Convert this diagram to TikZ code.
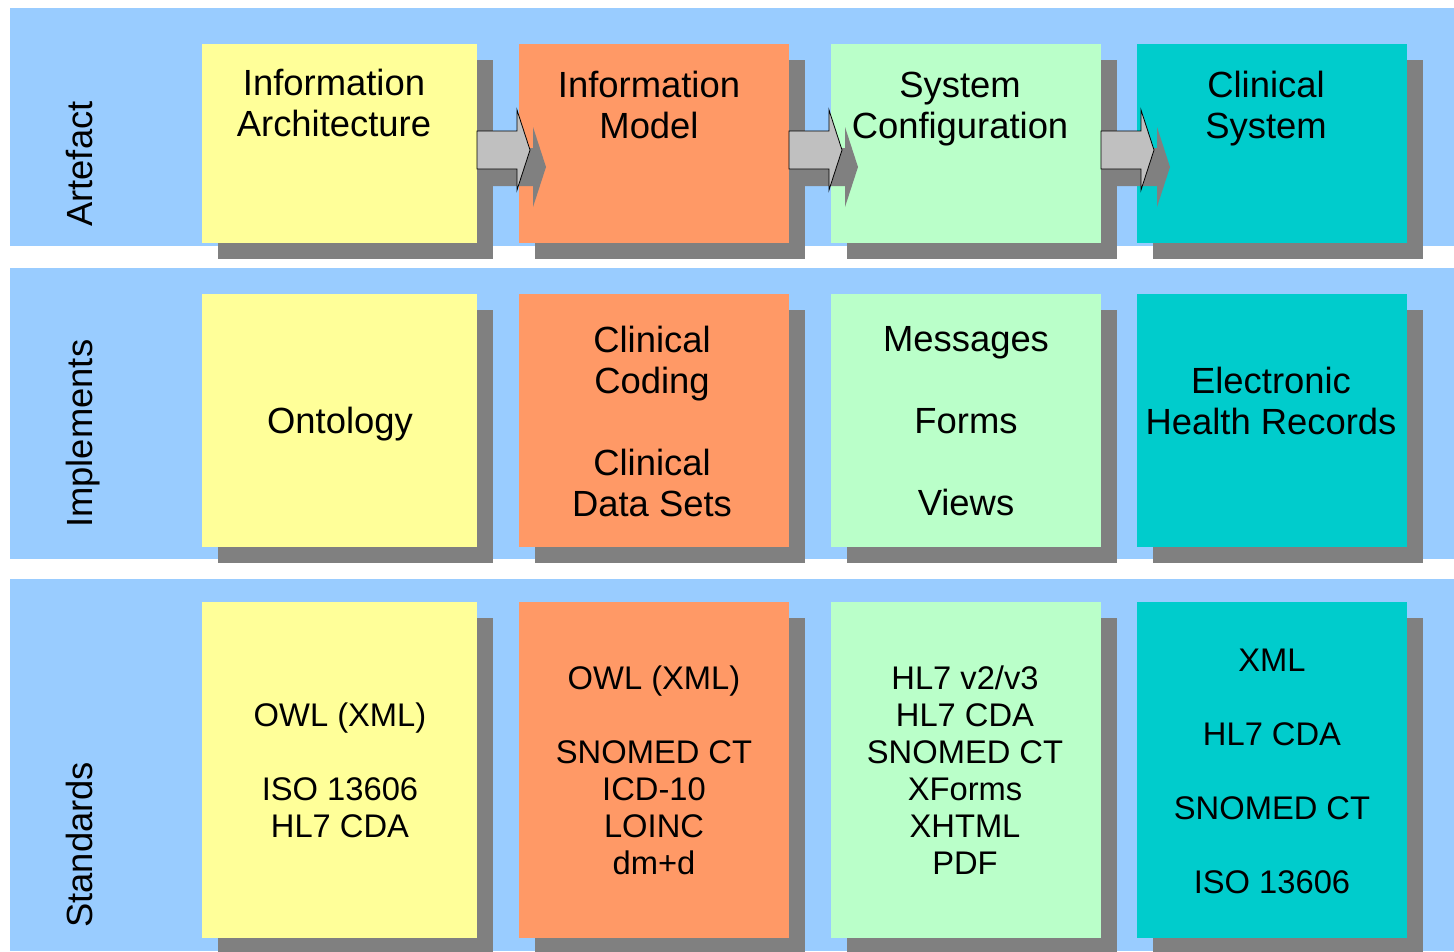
\documentclass[tikz,border=0pt]{standalone}
\usepackage{fontspec}
\setmainfont{Liberation Sans}
\usetikzlibrary{calc, shadows}

\definecolor{bandblue}{HTML}{99CCFF}
\definecolor{cardyellow}{HTML}{FFFF99}
\definecolor{cardorange}{HTML}{FF9966}
\definecolor{cardgreen}{HTML}{BAFFC9}
\definecolor{cardteal}{HTML}{00CCCC}
\definecolor{shadowgray}{HTML}{808080}
\definecolor{arrowgray}{HTML}{C0C0C0}

\tikzset{
  card/.style={rectangle, inner sep=0pt, outer sep=0pt, anchor=north west,
    drop shadow={shadow xshift=16bp, shadow yshift=-16bp, opacity=1, fill=shadowgray}},
  wide/.style={minimum width=275bp},
  narrow/.style={minimum width=270bp},
  toprow/.style={minimum height=199bp},
  midrow/.style={minimum height=253bp},
  lowrow/.style={minimum height=336bp},
  bigtext/.style={align=center, inner sep=0pt, font=\fontsize{36.4bp}{41bp}\selectfont},
  smalltext/.style={align=center, inner sep=0pt, font=\fontsize{32.7bp}{37bp}\selectfont},
  sidelabel/.style={rotate=90, anchor=base west, inner sep=0pt, font=\fontsize{36.4bp}{41bp}\selectfont},
  blockarrow/.style={draw=black, line width=0.8bp, fill=arrowgray, line join=miter}
}

\begin{document}
\begin{tikzpicture}[x=1bp, y=-1bp]
      \useasboundingbox (0,0) rectangle (1454,951);
      \fill[white] (0,0) rectangle (1454,951);

      \fill[bandblue] (10,8) rectangle (1454,246);
      \fill[bandblue] (10,268) rectangle (1454,559);
      \fill[bandblue] (10,579) rectangle (1454,951);

      \node[sidelabel] (lartefact) at (92,227) {Artefact};
      \node[sidelabel] (limplements) at (92,528) {Implements};
      \node[sidelabel] (lstandards) at (92,928) {Standards};

      \node[card, wide, toprow, fill=cardyellow] (infarch) at (202,44) {};
      \node[card, narrow, toprow, fill=cardorange] (infmodel) at (519,44) {};
      \node[card, narrow, toprow, fill=cardgreen] (sysconf) at (831,44) {};
      \node[card, narrow, toprow, fill=cardteal] (clinsys) at (1137,44) {};

      \node[card, wide, midrow, fill=cardyellow] (ontology) at (202,294) {};
      \node[card, narrow, midrow, fill=cardorange] (coding) at (519,294) {};
      \node[card, narrow, midrow, fill=cardgreen] (forms) at (831,294) {};
      \node[card, narrow, midrow, fill=cardteal] (ehr) at (1137,294) {};

      \node[card, wide, lowrow, fill=cardyellow] (owlstd) at (202,602) {};
      \node[card, narrow, lowrow, fill=cardorange] (codestd) at (519,602) {};
      \node[card, narrow, lowrow, fill=cardgreen] (msgstd) at (831,602) {};
      \node[card, narrow, lowrow, fill=cardteal] (ehrstd) at (1137,602) {};

      \foreach \a in {infarch, infmodel, sysconf} {
        \fill[shadowgray] ($(\a.north east)+(16,104)$) -- ++(40,0) -- ++(0,-21)
          -- ++(13,40) -- ++(-13,40) -- ++(0,-21) -- ++(-40,0) -- cycle;
        \draw[blockarrow] ($(\a.north east)+(0,87)$) -- ++(40,0) -- ++(0,-21)
          -- ++(13,40) -- ++(-13,40) -- ++(0,-21) -- ++(-40,0) -- cycle;
      }

      \node[bigtext] (tinfarch) at (334,103) {Information\\Architecture};
      \node[bigtext] (tinfmodel) at (649,105) {Information\\Model};
      \node[bigtext] (tsysconf) at (960,109) {System\\Configuration};
      \node[bigtext] (tclinsys) at (1266,109) {Clinical\\System};

      \node[bigtext] (tontology) at (340,424) {Ontology};
      \node[bigtext] (tcoding) at (652,421) {Clinical\\Coding\\[41bp]Clinical\\Data Sets};
      \node[bigtext] (tforms) at (966,421) {Messages\\[41bp]Forms\\[41bp]Views};
      \node[bigtext] (tehr) at (1271,401) {Electronic\\Health Records};

      \node[smalltext] (towlstd) at (340,770) {OWL (XML)\\[37bp]ISO 13606\\HL7 CDA};
      \node[smalltext] (tcodestd) at (654,770) {OWL (XML)\\[37bp]SNOMED CT\\ICD-10\\LOINC\\dm+d};
      \node[smalltext] (tmsgstd) at (965,770) {HL7 v2/v3\\HL7 CDA\\SNOMED CT\\XForms\\XHTML\\PDF};
      \node[smalltext] (tehrstd) at (1272,771) {XML\\[37bp]HL7 CDA\\[37bp]SNOMED CT\\[37bp]ISO 13606};
    \end{tikzpicture}
\end{document}
